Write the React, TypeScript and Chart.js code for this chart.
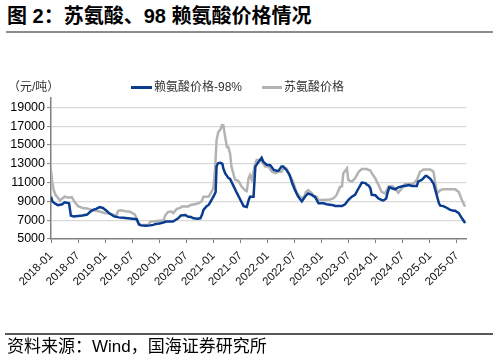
import React, { useEffect, useRef } from "react";
import { Chart, registerables } from "chart.js";

Chart.register(...registerables);

// x positions are months since 2018-01
const xTickMonths = [0, 6, 12, 18, 24, 30, 36, 42, 48, 54, 60, 66, 72, 78, 84, 90];
const xTickLabels = [
  "2018-01", "2018-07", "2019-01", "2019-07", "2020-01", "2020-07", "2021-01", "2021-07",
  "2022-01", "2022-07", "2023-01", "2023-07", "2024-01", "2024-07", "2025-01", "2025-07",
];
const yTicks = [5000, 7000, 9000, 11000, 13000, 15000, 17000, 19000];

const lysineLabel = "赖氨酸价格-98%";
const threonineLabel = "苏氨酸价格";

const lysineMonths = [
  0, 0.3, 0.8, 1.5, 2.5, 3, 4, 4.4, 5, 6, 7, 8, 8.7, 9.3, 10, 10.8, 11.5, 12.3, 13, 14,
  15, 16, 17, 18, 19, 19.5, 20, 21, 22, 22.7, 23.2, 24, 24.9, 25.5, 27, 27.5, 28.2, 28.8,
  29.8, 30.3, 31, 31.6, 32.5, 33.1, 33.5, 33.8, 34.5, 35, 35.6, 36.2, 36.5, 36.7, 37, 37.6,
  38, 38.2, 38.6, 39.3, 39.7, 40.5, 41.2, 42, 42.7, 43.4, 43.8, 44.1, 44.9, 45.3, 46, 46.7,
  47.1, 47.8, 48.6, 49.4, 50.1, 50.5, 51.1, 51.5, 52.2, 52.9, 53.5, 54.1, 54.8, 55.6, 56.3,
  57, 57.8, 58.5, 59.3, 60.4, 61.1, 62.6, 63, 64.5, 65.2, 65.9, 66.7, 67.4, 68.2, 68.9,
  69.7, 70.1, 70.4, 70.8, 71.1, 71.9, 72.6, 73.3, 73.7, 74.3, 74.6, 75, 75.6, 76.3, 77,
  78.1, 78.5, 79.3, 80, 81.1, 81.4, 82.2, 83, 83.3, 84.1, 84.8, 85.6, 86, 86.3, 87, 87.8,
  88.5, 89.3, 89.6, 90.4, 91.1, 91.8,
];
const lysinePrices = [
  9500, 9000, 8800, 8600, 8700, 8900, 8800, 7500, 7400, 7450, 7500, 7600, 7900, 8100, 8200,
  8400, 8300, 8000, 7700, 7400, 7300, 7250, 7200, 7150, 7100, 6550, 6450, 6400, 6450, 6500,
  6600, 6650, 6750, 6850, 6850, 7000, 7200, 7500, 7550, 7400, 7350, 7200, 7150, 7200, 7600,
  8100, 8500, 8650, 9150, 9700, 10000, 12700, 13050, 13100, 13000, 12500, 12000, 11500,
  11400, 10600, 9900, 9150, 8500, 8400, 9100, 9500, 9500, 12700, 13200, 13650, 13200, 12900,
  12850, 12350, 12250, 12300, 12700, 12700, 12350, 11800, 10900, 10200, 9500, 9000, 9500,
  9850, 9700, 9500, 8800, 8800, 8700, 8600, 8500, 8500, 8700, 9150, 9500, 9700, 10400,
  11000, 10950, 10750, 10700, 10400, 9700, 9650, 9300, 9150, 9100, 9300, 9900, 10500, 10400,
  10280, 10500, 10640, 10650, 10750, 10650, 10650, 11100, 11300, 11700, 11700, 11400, 10900,
  9500, 8800, 8550, 8500, 8300, 8100, 8000, 8000, 7750, 7200, 6700,
];

const threonineMonths = [
  0, 0.3, 0.6, 1, 1.5, 2, 2.5, 3, 4, 4.6, 5.3, 6, 7, 8, 9, 10, 11, 12, 13, 14, 14.5, 14.9,
  15.5, 16.5, 17.5, 18.6, 19.4, 19.7, 21.6, 22, 23, 25, 25.3, 26, 26.8, 27.1, 27.9, 28.6, 29,
  30.4, 30.8, 32.7, 33.4, 33.8, 34.9, 35.2, 36, 36.4, 36.7, 37.1, 37.5, 37.9, 38.2, 38.6, 39,
  39.3, 39.7, 40, 40.8, 41.5, 42.3, 43, 43.4, 43.8, 44.1, 44.5, 45.3, 45.6, 46.4, 46.7, 47.5,
  48.2, 49, 49.7, 50.4, 51.1, 51.5, 52.2, 52.9, 53.7, 54.4, 55.2, 56, 56.5, 57, 57.8, 58.2,
  58.9, 59.3, 60, 61.9, 62.6, 63.3, 64.1, 64.5, 64.8, 65.6, 65.9, 66.7, 67.4, 68.2, 68.9,
  70.1, 70.4, 70.8, 71.1, 71.9, 72.6, 73.3, 74.1, 74.8, 75.6, 76.3, 77, 77.8, 78.5, 79.6,
  80.4, 81.1, 81.8, 82.6, 84.1, 84.8, 85.2, 85.6, 86.3, 87, 89.6, 90.4, 91.1, 91.8,
];
const threoninePrices = [
  12300, 11000, 10200, 9700, 9400, 9100, 9300, 9500, 9400, 9450, 8900, 8500, 8300, 8250,
  8100, 8000, 7900, 7750, 7700, 7550, 7500, 8000, 8050, 7950, 7900, 7600, 6700, 6500, 6500,
  6850, 6900, 7000, 7500, 7900, 7900, 7750, 8200, 8300, 8450, 8450, 8600, 8800, 9000, 9500,
  9500, 9700, 10400, 12700, 15500, 16400, 16600, 17100, 17100, 15900, 14800, 14800, 14100,
  12700, 11300, 11200, 10550, 10200, 10100, 11450, 11800, 11300, 13050, 13400, 13400, 13250,
  12700, 12700, 12150, 12000, 12150, 12150, 12500, 12500, 11800, 11100, 10000, 9500, 9300,
  10000, 10200, 9900, 9500, 9500, 9150, 9150, 9200, 9330, 9680, 10570, 10600, 12000, 12500,
  11280, 11100, 11450, 12150, 12450, 12450, 12340, 12300, 12000, 11450, 10740, 10000, 9860,
  10570, 10640, 10390, 9930, 10390, 10850, 10850, 10920, 11280, 12150, 12400, 12400, 12150,
  10920, 9860, 10200, 10280, 10280, 10000, 9150, 8440,
];

const BLUE = "#0a3d8f";
const GRAY = "#b3b3b3";
const AXIS = "#808080";
const FONT = "'Liberation Sans', 'Noto Sans CJK SC', sans-serif";

function toPoints(xs: number[], ys: number[]) {
  return xs.map((x, i) => ({ x, y: ys[i] }));
}

export default function App() {
  const ref = useRef<HTMLCanvasElement | null>(null);

  useEffect(() => {
    if (!ref.current) return;
    const chart = new Chart(ref.current, {
      type: "line",
      data: {
        datasets: [
          {
            label: lysineLabel,
            data: toPoints(lysineMonths, lysinePrices),
            borderColor: BLUE,
            borderWidth: 2.5,
            pointRadius: 0,
            tension: 0,
          },
          {
            label: threonineLabel,
            data: toPoints(threonineMonths, threoninePrices),
            borderColor: GRAY,
            borderWidth: 2.5,
            pointRadius: 0,
            tension: 0,
          },
        ],
      },
      options: {
        animation: false,
        responsive: false,
        maintainAspectRatio: false,
        layout: { padding: { top: 98, left: 0, right: 32, bottom: 0 } },
        plugins: {
          legend: { display: false },
          tooltip: { enabled: false },
          title: { display: false },
        },
        scales: {
          x: {
            type: "linear",
            min: 0,
            max: 92,
            afterBuildTicks: (scale: any) => {
              scale.ticks = xTickMonths.map((v) => ({ value: v }));
            },
            afterFit: (scale: any) => {
              scale.height = 123;
            },
            ticks: {
              autoSkip: false,
              maxRotation: 45,
              minRotation: 45,
              padding: 6,
              color: "#111",
              font: { family: FONT, size: 11.5 },
              callback: (value: any) => {
                const i = xTickMonths.indexOf(Number(value));
                return i >= 0 ? xTickLabels[i] : "";
              },
            },
            grid: {
              drawOnChartArea: false,
              drawTicks: true,
              tickLength: 4,
              tickColor: AXIS,
              tickWidth: 1,
            },
            border: { color: AXIS, width: 1.5 },
          },
          y: {
            type: "linear",
            min: 5000,
            max: 20000,
            afterBuildTicks: (scale: any) => {
              scale.ticks = yTicks.map((v) => ({ value: v }));
            },
            afterFit: (scale: any) => {
              scale.width = 51;
            },
            ticks: {
              padding: 2,
              color: "#000",
              font: { family: FONT, size: 12.5 },
              callback: (value: any) => String(value),
            },
            grid: {
              color: (ctx: any) => (ctx.tick && ctx.tick.value === 5000 ? "rgba(0,0,0,0)" : "#d9d9d9"),
              lineWidth: 1.2,
              tickLength: 4,
              tickColor: AXIS,
              tickWidth: 1,
            },
            border: { color: AXIS, width: 1.5 },
          },
        },
      },
    });
    return () => chart.destroy();
  }, []);

  const cjk = "'Liberation Sans', 'Noto Sans CJK SC', sans-serif";

  return (
    <div
      style={{
        position: "fixed",
        left: 0,
        top: 0,
        width: 498,
        height: 362,
        background: "#fff",
        overflow: "hidden",
        fontFamily: cjk,
      }}
    >
      <div
        style={{
          position: "absolute",
          left: 7,
          top: 5,
          fontSize: 20,
          lineHeight: "22px",
          fontWeight: "bold",
          color: "#000",
          whiteSpace: "nowrap",
        }}
      >
        图 2：苏氨酸、98 赖氨酸价格情况
      </div>
      <div style={{ position: "absolute", left: 6, top: 31, width: 487, height: 2, background: "#8c8c8c" }} />

      <canvas
        ref={ref}
        width={498}
        height={362}
        style={{ position: "absolute", left: 0, top: 0, width: 498, height: 362 }}
      />

      <div
        style={{
          position: "absolute",
          left: 8,
          top: 79,
          fontSize: 12,
          lineHeight: "16px",
          color: "#333",
          whiteSpace: "nowrap",
        }}
      >
        （元/吨）
      </div>
      <div style={{ position: "absolute", left: 131, top: 86, width: 21, height: 3, background: BLUE }} />
      <div
        style={{
          position: "absolute",
          left: 154,
          top: 79,
          fontSize: 12,
          lineHeight: "16px",
          color: "#333",
          whiteSpace: "nowrap",
        }}
      >
        {lysineLabel}
      </div>
      <div style={{ position: "absolute", left: 262, top: 86, width: 20, height: 3, background: GRAY }} />
      <div
        style={{
          position: "absolute",
          left: 284,
          top: 79,
          fontSize: 12,
          lineHeight: "16px",
          color: "#333",
          whiteSpace: "nowrap",
        }}
      >
        {threonineLabel}
      </div>

      <div style={{ position: "absolute", left: 5, top: 333, width: 488, height: 1.5, background: "#595959" }} />
      <div
        style={{
          position: "absolute",
          left: 7,
          top: 337,
          fontSize: 17,
          lineHeight: "20px",
          color: "#000",
          whiteSpace: "nowrap",
        }}
      >
        资料来源：Wind，国海证券研究所
      </div>
    </div>
  );
}
